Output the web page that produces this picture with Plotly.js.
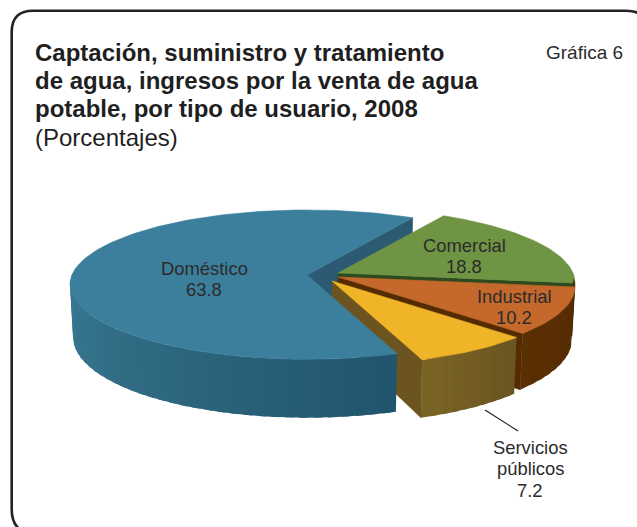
<!DOCTYPE html>
<html><head><meta charset="utf-8">
<script src="https://cdn.plot.ly/plotly-3.0.1.min.js"></script>
<style>html,body{margin:0;padding:0;background:#fff}#chart{width:637px;height:527px}</style>
</head><body><div id="chart"></div>
<script>
// Data
const categories = ["Doméstico", "Servicios públicos", "Industrial", "Comercial"];
const values = [63.8, 7.2, 10.2, 18.8];
const labelLines = [["Doméstico","63.8"],["Servicios","públicos","7.2"],["Industrial","10.2"],["Comercial","18.8"]];

// Styles
const topColors = ["#3b7f9c","#f0b428","#c4682b","#6f9444"];
const innerColors = ["#2c5a72","#6b5420","#552c02","#2c4a1e"];
const outerFrom = [[62,128,153],[122,100,37],[90,47,3],[60,80,35]];
const outerTo   = [[33,84,108],[106,84,32],[84,42,2],[60,80,35]];
const apex = [[307,275],[332,281],[338,277],[338,273]];
const labelPos = [[204,268],[530,447],[514,296],[464,245]];
const A = 235, B = 73.4, K = 0.129, H = 52, START = 60, LINE_H = 21.5;
const txt = "#2b2b2b", fam = "Liberation Sans, Arial, sans-serif";

// Slice angles from the values
let ang = START; const spans = values.map(v => { const s = [ang, ang + v*3.6]; ang += v*3.6; return s; });

function proj(i, deg, bottom){
  const t = deg*Math.PI/180, X = Math.cos(t), Y = Math.sin(t), f = 1/(1+K*Y);
  const dx = A*X*f, dy = -B*Y*f;
  return bottom ? [apex[i][0]+dx*0.987, apex[i][1]+dy*0.985+H*f] : [apex[i][0]+dx, apex[i][1]+dy];
}
const traces = [];
function poly(pts, color, w){
  traces.push({type:"scatter",mode:"lines",x:pts.map(p=>p[0]),y:pts.map(p=>p[1]),fill:"toself",fillcolor:color,
    line:{color:color,width:w===undefined?0.6:w},hoverinfo:"skip",showlegend:false});
}
function topFace(i){
  const pts=[apex[i]];
  for(let a=spans[i][0];a<spans[i][1];a+=1.5)pts.push(proj(i,a));
  pts.push(proj(i,spans[i][1]));pts.push(apex[i]);poly(pts,topColors[i]);
}
function inner(i,deg){
  const r=proj(i,deg),b=proj(i,deg,true),ab=[apex[i][0],apex[i][1]+H];
  poly([apex[i],r,b,ab,apex[i]],innerColors[i]);
}
function outer(i,a0,a1,n){
  const step=(a1-a0)/n;
  for(let k=0;k<n;k++){
    const s=a0+step*k,m=(k+.5)/n;
    const e=k<n-1?s+step*1.6:a1; // each strip runs under the next, so no seams show
    const c=outerFrom[i].map((v,j)=>Math.round(v+(outerTo[i][j]-v)*m));
    const pts=[];
    for(let q=0;q<=4;q++)pts.push(proj(i,s+(e-s)*q/4));
    for(let q=4;q>=0;q--)pts.push(proj(i,s+(e-s)*q/4,true));
    pts.push(pts[0]);poly(pts,`rgb(${c})`,0);
  }
}
// Back to front: 0 blue, 1 yellow, 2 orange, 3 green
inner(0,spans[0][0]);
inner(3,spans[3][0]);topFace(3);
inner(2,spans[2][0]);outer(2,spans[2][0],spans[2][1]+7,12);topFace(2);
inner(1,spans[1][0]);
outer(0,168,spans[0][1],40);topFace(0);
outer(1,spans[1][0],spans[1][1],10);topFace(1);

const annotations=[];
labelLines.forEach((lines,i)=>lines.forEach((s,j)=>annotations.push({
  text:s,x:labelPos[i][0],y:labelPos[i][1]+j*LINE_H,xref:"x",yref:"y",showarrow:false,xanchor:"center",yanchor:"middle",
  font:{family:fam,size:18.4,color:txt}})));
annotations.push({text:"Gráfica 6",x:625,y:52,xref:"x",yref:"y",showarrow:false,xanchor:"right",yanchor:"middle",font:{family:fam,size:19,color:txt}});
const titleLines=["<b>Captación, suministro y tratamiento</b>","<b>de agua, ingresos por la venta de agua</b>","<b>potable, por tipo de usuario, 2008</b>","(Porcentajes)"];
titleLines.forEach((s,i)=>annotations.push({text:s,x:33,y:52+i*28.4,xref:"x",yref:"y",showarrow:false,xanchor:"left",yanchor:"middle",font:{family:fam,size:24,color:"#1f1f1f"}}));

const layout={width:637,height:527,margin:{l:0,r:0,t:0,b:0},paper_bgcolor:"#fff",plot_bgcolor:"#fff",showlegend:false,hovermode:false,
  xaxis:{visible:false,range:[0,637],fixedrange:true},yaxis:{visible:false,range:[527,0],fixedrange:true},
  annotations,
  shapes:[
   {type:"path",xref:"x",yref:"y",path:"M 11.7 509 L 11.7 32 Q 11.7 10.7 33 10.7 L 626 10.7 Q 648 10.7 648 32 L 648 509 Q 648 533 626 533 L 34 533 Q 11.7 533 11.7 509 Z",line:{color:"#222",width:2.6},layer:"below"},
   {type:"line",xref:"x",yref:"y",x0:485,y0:410,x1:518,y1:431,line:{color:"#222",width:1.2}}
  ]};
Plotly.newPlot("chart",traces,layout,{displayModeBar:false,staticPlot:true});
</script></body></html>
